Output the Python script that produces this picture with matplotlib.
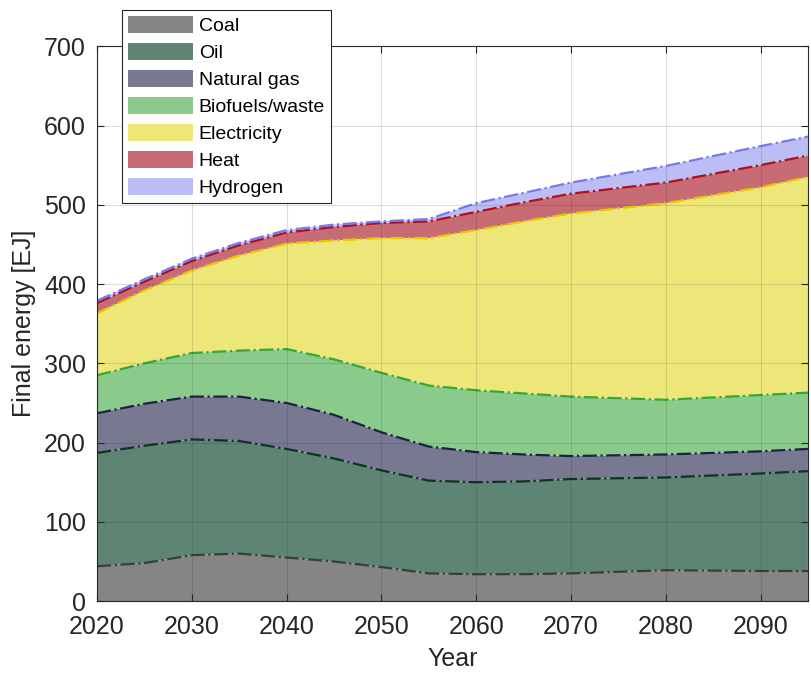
import numpy as np
import matplotlib
matplotlib.use("Agg")
import matplotlib.pyplot as plt

# final energy by carrier [EJ]
years = [2020, 2025, 2030, 2035, 2040, 2045, 2050, 2055, 2060, 2065, 2070, 2080, 2090, 2095]
coal = [44, 48, 58, 60, 55, 50, 43, 35, 34, 34, 35, 39, 38, 38]
oil = [143, 148, 146, 142, 137, 130, 122, 117, 116, 117, 119, 117, 123, 126]
natural_gas = [50, 53, 54, 56, 58, 55, 48, 43, 38, 34, 29, 29, 28, 28]
biofuels = [48, 51, 55, 58, 68, 70, 75, 77, 78, 77, 75, 69, 71, 71]
electricity = [78, 92, 104, 120, 133, 150, 170, 186, 202, 217, 231, 248, 262, 272]
heat = [13, 11, 12, 13, 14, 17, 19, 21, 23, 24, 25, 26, 28, 27]
hydrogen = [3, 3, 3, 3, 3, 3, 2, 3, 11, 12, 14, 21, 24, 24]

labels = ["Coal", "Oil", "Natural gas", "Biofuels/waste", "Electricity", "Heat", "Hydrogen"]
series = [coal, oil, natural_gas, biofuels, electricity, heat, hydrogen]
fills = ["#858585", "#5e8573", "#787890", "#8acb8c", "#ede77a", "#c76b74", "#bcbdf4"]
edges = ["#3c3c3c", "#0d3322", "#1e2145", "#35a63a", "#e6c800", "#b0101c", "#7878f0"]

plt.rcParams["font.family"] = ["Liberation Sans", "DejaVu Sans"]
fig = plt.figure(figsize=(8.11, 6.8), dpi=100)
ax = fig.add_axes([0.1196, 0.116, 0.8766, 0.816])

x = np.array(years)
base = np.zeros(len(x))
for lab, vals, fc, ec in zip(labels, series, fills, edges):
    top = base + np.array(vals)
    ax.fill_between(x, base, top, facecolor=fc, edgecolor="none", label=lab, zorder=1)
    ax.plot(x, top, color=ec, lw=1.6, ls="-.", zorder=2)
    base = top

ax.set_xlim(2020, 2095)
ax.set_ylim(0, 700)
ax.set_xticks(range(2020, 2091, 10))
ax.set_yticks(range(0, 701, 100))
ax.grid(True, color="#262626", alpha=0.15, lw=0.8)
ax.set_axisbelow(False)
ax.tick_params(labelsize=18, colors="#262626", direction="in", length=5,
               top=True, right=True, width=0.8)
ax.tick_params(axis="x", pad=10)
ax.tick_params(axis="y", pad=8)
for s in ax.spines.values():
    s.set_color("#262626")
    s.set_linewidth(0.8)
ax.set_xlabel("Year", fontsize=18, color="#262626", labelpad=6)
ax.set_ylabel("Final energy [EJ]", fontsize=18, color="#262626", labelpad=6)

leg = ax.legend(loc="upper left", bbox_to_anchor=(0.035, 1.065), borderaxespad=0,
                fontsize=14, handlelength=3.35, handleheight=1.0, labelspacing=0.39,
                handletextpad=0.3, borderpad=0.3, fancybox=False, framealpha=1,
                edgecolor="#262626")
leg.get_frame().set_linewidth(0.8)
leg.set_zorder(5)

fig.savefig("out.png", dpi=100)
